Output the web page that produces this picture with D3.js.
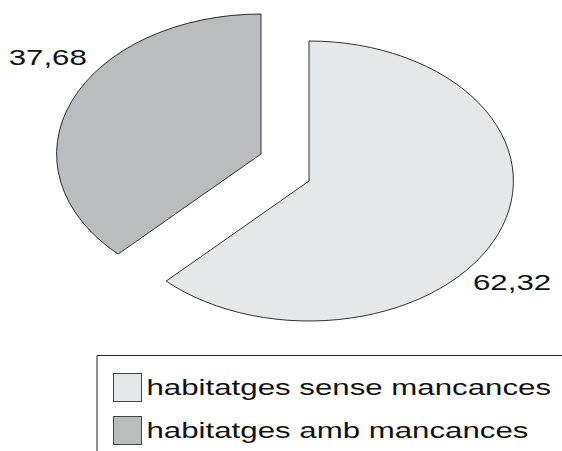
<!DOCTYPE html>
<html>
<head>
<meta charset="utf-8">
<script src="https://cdn.jsdelivr.net/npm/d3@7"></script>
<style>
  html, body { margin: 0; padding: 0; background: #fff; }
  svg { display: block; }
  text { font-family: "Liberation Sans", Arial, Helvetica, sans-serif; fill: #111; }
</style>
</head>
<body>
<svg id="chart" width="562" height="451"></svg>
<script>
// ---- data ----
const categories = ["habitatges sense mancances", "habitatges amb mancances"];
const values = [62.32, 37.68];
const valueLabels = ["62,32", "37,68"];
const colors = ["#e6e7e8", "#bbbcbe"];

// ---- layout ----
const W = 562, H = 451;
const sx = 1.46;          // horizontal stretch of the original chart
const r = 140;            // radius (vertical)
const centers = [[309, 181], [261, 154]]; // exploded slice centres
const svg = d3.select("#chart");

const pie = d3.pie().sort(null).value(d => d)(values);
const arc = d3.arc().innerRadius(0).outerRadius(r);

pie.forEach((p, i) => {
  const g = svg.append("g")
    .attr("transform", `translate(${centers[i][0]},${centers[i][1]}) scale(${sx},1)`);
  g.append("path")
    .attr("d", arc(p))
    .attr("fill", colors[i])
    .attr("stroke", "#000")
    .attr("stroke-width", 0.8)
    .attr("vector-effect", "non-scaling-stroke")
    .attr("stroke-linejoin", "miter");

  const mid = (p.startAngle + p.endAngle) / 2 + 0.22;
  const R = r * 1.24;
  const lx = Math.sin(mid) * R - 3.5, ly = -Math.cos(mid) * R + 2.5;
  g.append("text")
    .attr("x", lx).attr("y", ly)
    .attr("dy", "0.36em")
    .attr("text-anchor", "middle")
    .attr("font-size", 21.4)
    .text(valueLabels[i]);
});

// ---- legend ----
const lg = svg.append("g").attr("transform", `translate(97,355)`);
lg.append("path")
  .attr("d", `M0,${H - 355 + 2} V0.5 H${W - 97 + 5}`)
  .attr("fill", "none").attr("stroke", "#222").attr("stroke-width", 1);

const rows = lg.selectAll("g.row").data(categories).join("g")
  .attr("class", "row")
  .attr("transform", (d, i) => `translate(16.5,${18.5 + i * 43})`);
rows.append("rect")
  .attr("width", 28).attr("height", 28)
  .attr("fill", (d, i) => colors[i])
  .attr("stroke", "#444").attr("stroke-width", 1);
rows.append("text")
  .attr("transform", `translate(33,21) scale(${sx},1)`)
  .attr("font-size", 21.4)
  .text(d => d);
</script>
</body>
</html>
